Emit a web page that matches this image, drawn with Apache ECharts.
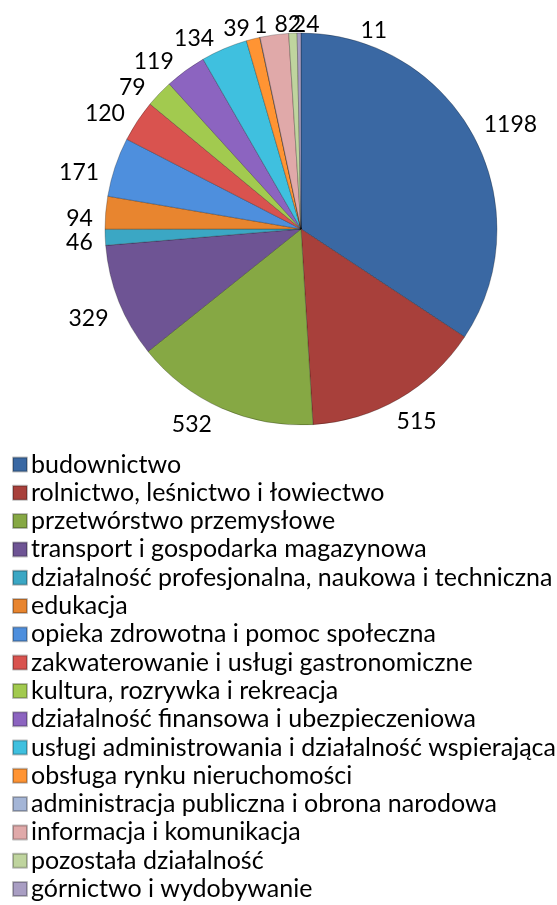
<!DOCTYPE html>
<html>
<head>
<meta charset="utf-8">
<script src="https://cdn.jsdelivr.net/npm/echarts@6/dist/echarts.min.js"></script>
<style>
  html, body { margin: 0; padding: 0; background: #fff; }
  #chart { width: 557px; height: 905px; }
</style>
</head>
<body>
<div id="chart"></div>
<script>
  // categories in legend order
  var categories = [
    'budownictwo',
    'rolnictwo, leśnictwo i łowiectwo',
    'przetwórstwo przemysłowe',
    'transport i gospodarka magazynowa',
    'działalność profesjonalna, naukowa i techniczna',
    'edukacja',
    'opieka zdrowotna i pomoc społeczna',
    'zakwaterowanie i usługi gastronomiczne',
    'kultura, rozrywka i rekreacja',
    'działalność finansowa i ubezpieczeniowa',
    'usługi administrowania i działalność wspierająca',
    'obsługa rynku nieruchomości',
    'administracja publiczna i obrona narodowa',
    'informacja i komunikacja',
    'pozostała działalność',
    'górnictwo i wydobywanie'
  ];
  var values = [1198, 515, 532, 329, 46, 94, 171, 120, 79, 119, 134, 39, 1, 82, 24, 11];

  var colors = [
    '#3A68A3', '#A8403B', '#86A844', '#6E5494', '#3BA7C4', '#E8852F',
    '#4E8FDD', '#D9534F', '#A2CA4F', '#8C64C0', '#3FC0DF', '#FF9433',
    '#A4B5D6', '#E0A9A9', '#BFD49E', '#A99EC3'
  ];

  // label angle nudges (deg), the original spread crowded labels apart
  var labelNudge = [1.2, -1.4, 5.7, -0.5, -0.4, -1.2, -3.5, -2.4, -3.1, -4.8, -5.9, -3.4, 1.0, 4.2, 3.8, 20.4];

  var font = 'Lato';
  var cx = 301, cy = 229, R = 196;

  var pieData = [];
  for (var i = 0; i < categories.length; i++) {
    pieData.push({ name: categories[i], value: values[i] });
  }

  // mid angle of every slice (clockwise from 12 o'clock)
  var total = values.reduce(function (a, b) { return a + b; }, 0);
  var midAngles = [];
  var acc = 0;
  for (var j = 0; j < values.length; j++) {
    midAngles.push((acc + values[j] / 2) / total * Math.PI * 2);
    acc += values[j];
  }

  // excel-like "outside end": box just outside the rim
  function placeLabel(params) {
    var a = midAngles[params.dataIndex] + labelNudge[params.dataIndex] * Math.PI / 180;
    var dx = Math.sin(a), dy = -Math.cos(a);
    var w = params.labelRect.width, h = params.labelRect.height;
    var d = R + Math.abs(dx) * (w / 2 + 12) + Math.abs(dy) * (h / 2 - 1);
    return {
      x: cx + dx * d, y: cy + dy * d + 3,
      align: 'center', verticalAlign: 'middle',
      hideOverlap: false, moveOverlap: false
    };
  }

  var chart = echarts.init(document.getElementById('chart'));
  chart.setOption({
    animation: false,
    color: colors,
    legend: {
      orient: 'vertical',
      left: 12,
      top: 452,
      padding: 0,
      icon: 'rect',
      itemWidth: 14,
      itemHeight: 14,
      itemGap: 3.3,
      textStyle: { fontFamily: font, fontSize: 25, lineHeight: 25, color: '#000', padding: [0, 0, 0, -1] },
      data: categories
    },
    series: [{
      type: 'pie',
      center: [cx, cy],
      radius: R,
      startAngle: 90,
      clockwise: true,
      avoidLabelOverlap: false,
      itemStyle: { borderColor: 'rgba(0,0,0,0.25)', borderWidth: 1 },
      label: {
        show: true,
        position: 'outside',
        formatter: '{c}',
        fontFamily: font,
        fontSize: 23,
        color: '#000'
      },
      labelLine: { show: false, length: 12, length2: 0 },
      labelLayout: placeLabel,
      data: pieData
    }]
  });
</script>
</body>
</html>
